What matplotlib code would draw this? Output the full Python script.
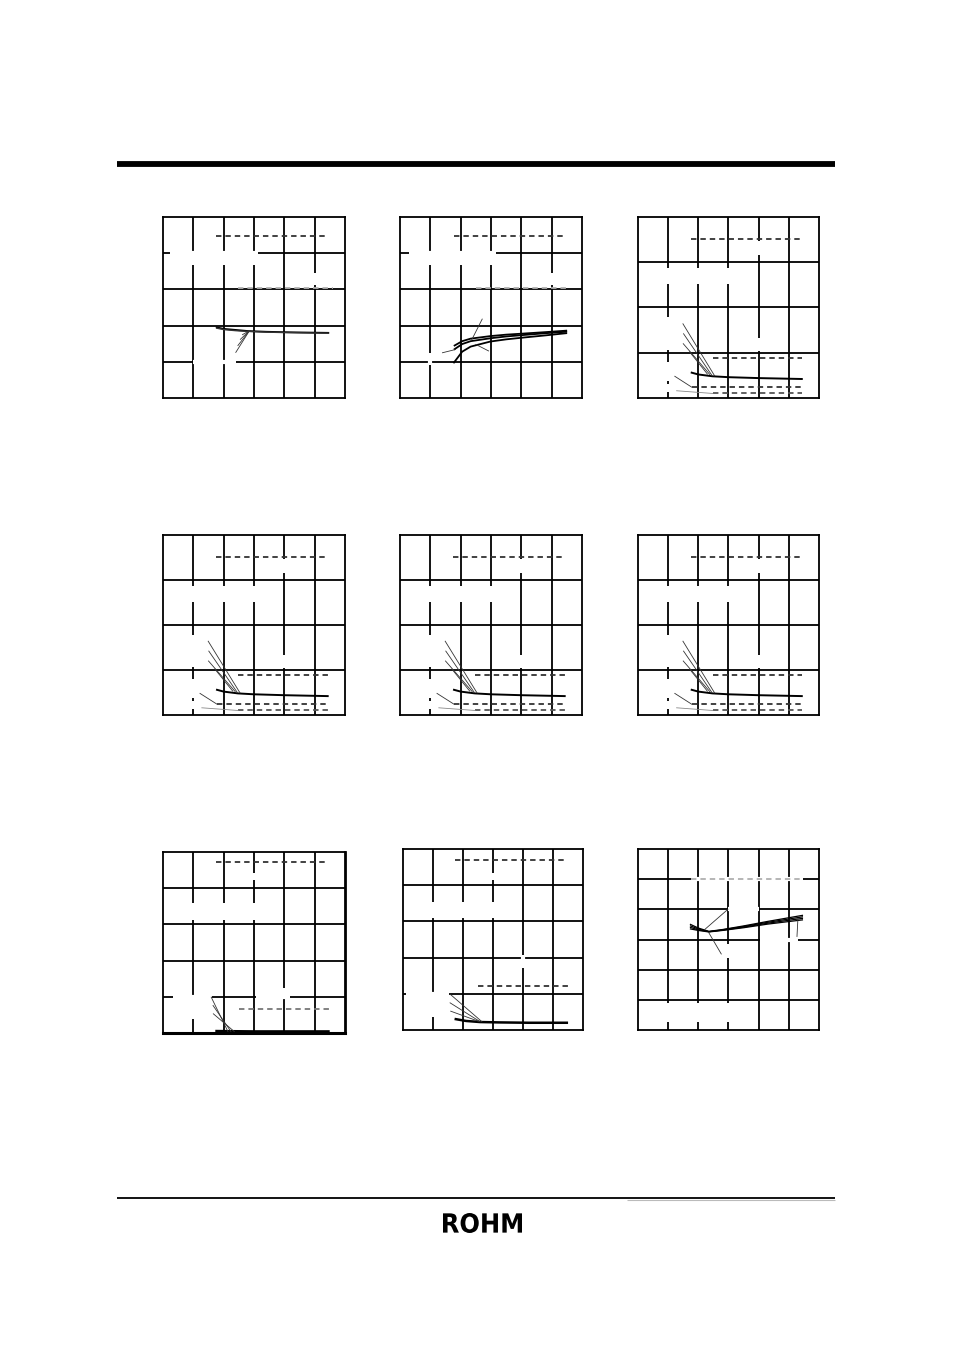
import numpy as np
import matplotlib
matplotlib.use("Agg")
import matplotlib.pyplot as plt
from matplotlib.textpath import TextPath
from matplotlib.patches import PathPatch
from matplotlib.font_manager import FontProperties
from matplotlib.transforms import Affine2D, IdentityTransform

W, H = 954, 1351

# ---- data (grid units: x 0..6, y 0..rows) ----
# chart A
a_top = [1.74, 5.45, 4.47]
a_gray = [2.48, 5.6, 3.03]
a_x = [1.77, 2.0, 2.4, 2.8, 3.4, 3.9, 4.6, 5.45]
a_y1 = [1.95, 1.91, 1.88, 1.85, 1.83, 1.82, 1.81, 1.80]
a_y2 = [1.93, 1.89, 1.86, 1.84, 1.82, 1.81, 1.80, 1.79]

# chart B
b_top = [1.79, 5.48, 4.48]
b_gray = [2.49, 5.52, 3.03]
b_x = [1.80, 2.05, 2.33, 2.98, 3.5, 4.07, 4.8, 5.48]
b_y1 = [1.45, 1.57, 1.64, 1.71, 1.75, 1.78, 1.82, 1.86]
b_y2 = [1.35, 1.49, 1.57, 1.65, 1.70, 1.74, 1.79, 1.83]
b_x3 = [1.78, 2.05, 2.33, 2.98, 3.5, 4.07, 4.8, 5.48]
b_y3 = [0.98, 1.28, 1.42, 1.56, 1.62, 1.67, 1.73, 1.79]

# charts C, D, E, F share the same layout
s_top = [1.75, 5.43, 3.51]
s_mid = [2.47, 5.43, 0.89]
s_low1 = [1.78, 5.43, 0.24]
s_low2 = [2.47, 5.43, 0.11]
s_x = [1.78, 2.0, 2.47, 3.0, 4.0, 5.43]
s_y = [0.56, 0.52, 0.48, 0.46, 0.44, 0.42]

# chart G
g_top = [1.75, 5.45, 4.72]
g_low = [2.52, 5.5, 0.66]
g_x = [1.77, 3.0, 4.5, 5.45]
g_y = [0.05, 0.04, 0.04, 0.04]

# chart H
h_top = [1.73, 5.46, 4.70]
h_mid = [2.51, 5.51, 1.22]
h_x = [1.76, 2.1, 2.57, 3.2, 4.2, 5.46]
h_y = [0.30, 0.25, 0.22, 0.21, 0.20, 0.20]

# chart I
i_gray = [1.75, 5.48, 5.0]
i_x = [1.74, 2.0, 2.35, 2.8, 3.5, 4.3, 5.45]
i_ys = [[3.50, 3.38, 3.27, 3.33, 3.45, 3.60, 3.80],
        [3.45, 3.35, 3.26, 3.32, 3.43, 3.57, 3.75],
        [3.40, 3.32, 3.26, 3.31, 3.41, 3.54, 3.70],
        [3.35, 3.30, 3.25, 3.30, 3.39, 3.51, 3.65]]


def make_ax(l, t, r, b, nrows):
    ax = fig.add_axes([l / W, 1 - b / H, (r - l) / W, (b - t) / H])
    ax.set_xlim(0, 6)
    ax.set_ylim(0, nrows)
    ax.set_xticks([])
    ax.set_yticks([])
    for s in ax.spines.values():
        s.set_linewidth(1.3)
        s.set_color('black')
    for k in range(1, 6):
        ax.plot([k, k], [0, nrows], color='black', lw=1.3, zorder=1)
    for k in range(1, nrows):
        ax.plot([0, 6], [k, k], color='black', lw=1.3, zorder=1)
    return ax


def gaps(ax, vg=(), hg=()):
    for x, y0, y1 in vg:
        ax.plot([x, x], [y0, y1], color='white', lw=3, zorder=2, solid_capstyle='butt')
    for y, x0, x1 in hg:
        ax.plot([x0, x1], [y, y], color='white', lw=3, zorder=2, solid_capstyle='butt')


def dash(ax, d, color='#333333'):
    ax.plot([d[0], d[1]], [d[2], d[2]], color=color, lw=1.3,
            dashes=(3, 2.2), zorder=3)


def lead(ax, x0, y0, x1, y1, color='#333333'):
    ax.plot([x0, x1], [y0, y1], color=color, lw=0.6, zorder=3)


fig = plt.figure(figsize=(W / 100, H / 100), dpi=100)

# header / footer rules
fig.add_artist(plt.Line2D([117 / W, 835 / W], [1 - 164 / H] * 2, color='black',
                          lw=4.2, solid_capstyle='butt'))
fig.add_artist(plt.Line2D([117 / W, 835 / W], [1 - 1197.5 / H] * 2, color='black',
                          lw=1.3, solid_capstyle='butt'))
fig.add_artist(plt.Line2D([627 / W, 835 / W], [1 - 1199.5 / H] * 2, color='#bbbbbb',
                          lw=0.8, solid_capstyle='butt'))

# ROHM logo
tp = TextPath((0, 0), 'ROHM', size=20, prop=FontProperties(family='DejaVu Sans', weight='bold'))
ext = tp.get_extents()
sx = (522 - 443) / ext.width
sy = (1233 - 1213) / ext.height
tr = Affine2D().translate(-ext.x0, -ext.y0).scale(sx, sy).translate(443, H - 1233)
fig.add_artist(PathPatch(tr.transform_path(tp), color='black', lw=0, transform=IdentityTransform()))

# ---- chart A ----
ax = make_ax(163, 217, 345, 398, 5)
gaps(ax, vg=[(1, 3.67, 4.0), (2, 3.67, 4.0), (3, 3.67, 4.0), (5, 3.12, 3.44)],
     hg=[(4, 0.23, 3.14), (1, 0.99, 2.4)])
dash(ax, a_top)
dash(ax, a_gray, '#b0b0b0')
ax.plot(a_x, a_y1, color='black', lw=1.3, zorder=3)
ax.plot(a_x, a_y2, color='#333333', lw=1.0, zorder=3)
for ex, ey in [(2.4, 1.26), (2.47, 1.45), (2.55, 1.62), (2.62, 1.75)]:
    lead(ax, 2.85, 1.86, ex, ey)

# ---- chart B ----
ax = make_ax(400, 217, 582, 398, 5)
gaps(ax, vg=[(1, 3.67, 4.0), (2, 3.67, 4.0), (3, 3.67, 4.0), (5, 3.12, 3.44),
             (1, 0.92, 1.25)],
     hg=[(4, 0.3, 3.15)])
dash(ax, b_top)
dash(ax, b_gray, '#b0b0b0')
ax.plot(b_x, b_y1, color='black', lw=1.3, zorder=3)
ax.plot(b_x, b_y2, color='black', lw=1.3, zorder=3)
ax.plot(b_x3, b_y3, color='black', lw=1.3, zorder=3)
lead(ax, 2.36, 1.60, 2.71, 2.18)
lead(ax, 1.83, 1.34, 1.40, 1.25)
lead(ax, 2.5, 1.48, 2.92, 1.30)

# ---- charts C, D, E, F ----
for l, t, r, b in [(638, 217, 819, 398), (163, 535, 345, 715),
                   (400, 535, 582, 715), (638, 535, 819, 715)]:
    ax = make_ax(l, t, r, b, 4)
    gaps(ax, vg=[(1, 2.52, 2.87), (2, 2.52, 2.87), (3, 2.52, 2.87),
                 (1, 1.07, 1.78), (1, 0.37, 0.80), (1, 0.13, 0.31),
                 (4, 3.16, 3.47), (4, 1.04, 1.33)])
    dash(ax, s_top)
    dash(ax, s_mid)
    dash(ax, s_low1)
    dash(ax, s_low2, '#555555')
    ax.plot(s_x, s_y, color='black', lw=1.4, zorder=3)
    lead(ax, 1.49, 1.64, 2.54, 0.49)
    lead(ax, 1.51, 1.42, 2.45, 0.50)
    lead(ax, 1.50, 1.20, 2.38, 0.52)
    lead(ax, 1.71, 1.02, 2.30, 0.53)
    lead(ax, 1.22, 0.48, 1.78, 0.24)
    lead(ax, 1.28, 0.16, 2.48, 0.10, '#888888')

# ---- chart G ----
ax = make_ax(163, 852, 345, 1033, 5)
ax.spines['bottom'].set_linewidth(2.2)
ax.spines['right'].set_linewidth(2.0)
gaps(ax, vg=[(1, 3.12, 3.58), (2, 3.12, 3.58), (3, 3.12, 3.58), (3, 4.22, 4.41),
             (1, 0.38, 1.0), (4, 1.0, 1.24)],
     hg=[(1, 0.33, 1.62), (1, 3.07, 4.2)])
dash(ax, g_top)
dash(ax, g_low, '#777777')
ax.plot(g_x, g_y, color='black', lw=2.0, zorder=3)
lead(ax, 1.59, 0.99, 2.14, 0.04)
lead(ax, 1.65, 0.76, 2.24, 0.04)
lead(ax, 1.66, 0.53, 2.35, 0.04)

# ---- chart H ----
ax = make_ax(403, 849, 583, 1030, 5)
gaps(ax, vg=[(1, 3.09, 3.54), (2, 3.09, 3.54), (3, 3.09, 3.54), (3, 4.15, 4.33),
             (1, 0.36, 0.95), (4, 1.70, 2.07)],
     hg=[(1, 0.1, 1.55)])
dash(ax, h_top)
dash(ax, h_mid)
ax.plot(h_x, h_y, color='black', lw=1.8, zorder=3)
lead(ax, 1.57, 0.99, 2.63, 0.23)
lead(ax, 1.57, 0.75, 2.57, 0.23)
lead(ax, 1.59, 0.52, 2.52, 0.24)

# ---- chart I ----
ax = make_ax(638, 849, 819, 1030, 6)
gaps(ax, vg=[(3, 2.38, 2.84), (1, 0.28, 0.88), (2, 0.28, 0.88), (3, 0.28, 0.88)],
     hg=[(5, 1.75, 5.48), (4, 3.0, 4.0), (3, 4.05, 5.3)])
dash(ax, i_gray, '#b0b0b0')
for ys in i_ys:
    ax.plot(i_x, ys, color='black', lw=0.9, zorder=3)
lead(ax, 2.21, 3.33, 2.98, 4.0)
lead(ax, 2.35, 3.22, 2.76, 2.52)
lead(ax, 5.30, 3.67, 5.27, 3.1)

fig.savefig("out.png", dpi=100)
